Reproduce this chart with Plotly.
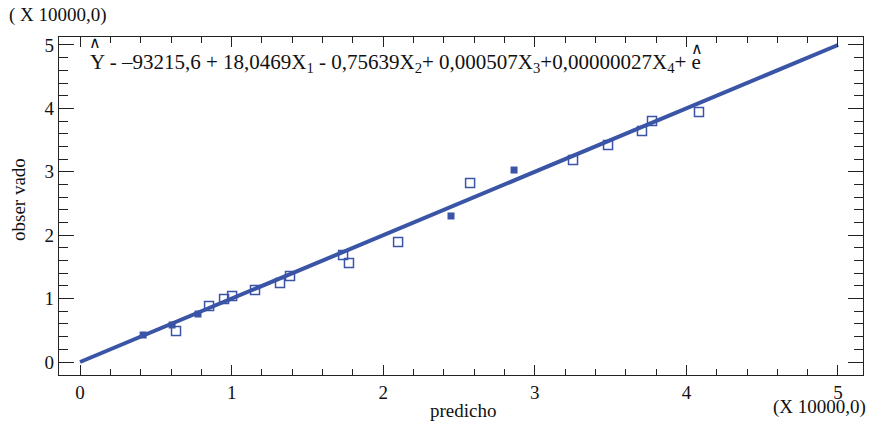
import plotly.graph_objects as go

# Data (units of 10000)
open_pred = [0.633, 0.851, 0.950, 1.003, 1.154, 1.319, 1.385, 1.735, 1.774, 2.098,
             2.573, 3.252, 3.483, 3.707, 3.773, 4.083]
open_obs = [0.489, 0.883, 0.994, 1.041, 1.136, 1.246, 1.356, 1.688, 1.562, 1.893,
            2.823, 3.186, 3.423, 3.644, 3.801, 3.943]
filled_pred = [0.416, 0.607, 0.778, 2.447, 2.863]
filled_obs = [0.426, 0.584, 0.757, 2.303, 3.028]
line_x = [0, 5]
line_y = [0, 5]
tick_vals = [0, 1, 2, 3, 4, 5]

BLUE = "#3a54a6"
FONT = "Liberation Serif, Times New Roman, DejaVu Serif, serif"
INK = "#111111"

fig = go.Figure()
fig.add_trace(go.Scatter(x=line_x, y=line_y, mode="lines",
                         line=dict(color=BLUE, width=4), hoverinfo="skip"))
fig.add_trace(go.Scatter(x=open_pred, y=open_obs, mode="markers",
                         marker=dict(symbol="square-open", size=9, color=BLUE,
                                     line=dict(width=1.5, color=BLUE))))
fig.add_trace(go.Scatter(x=filled_pred, y=filled_obs, mode="markers",
                         marker=dict(symbol="square", size=7, color=BLUE)))

fig.update_xaxes(range=[-0.139, 5.165], tickvals=tick_vals,
                 showline=True, linecolor="#222222", linewidth=1.3, mirror="ticks",
                 ticks="inside", ticklen=10, tickwidth=1.2, tickcolor="#222222",
                 showgrid=False, zeroline=False,
                 tickfont=dict(family=FONT, size=19, color=INK),
                 minor=dict(ticks="inside", ticklen=6, tickcolor="#222222", dtick=0.2, showgrid=False))
fig.update_yaxes(range=[-0.205, 5.126], tickvals=tick_vals,
                 showline=True, linecolor="#222222", linewidth=1.3, mirror="ticks",
                 ticks="inside", ticklen=15, tickwidth=1.2, tickcolor="#222222",
                 showgrid=False, zeroline=False,
                 tickfont=dict(family=FONT, size=19, color=INK),
                 minor=dict(ticks="inside", ticklen=9, tickcolor="#222222", dtick=0.2, showgrid=False))

ann = [
    dict(text="Y - \u201393215,6 + 18,0469X<sub>1</sub> - 0,75639X<sub>2</sub>+ 0,000507X<sub>3</sub>+0,00000027X<sub>4</sub>+ e",
         x=(88 - 59) / 804, y=(375 - 63) / 338, xanchor="left", yanchor="middle", size=21),
    dict(text="\u2227", x=(95 - 59) / 804, y=(375 - 43) / 338, xanchor="center", yanchor="middle", size=16),
    dict(text="\u2227", x=(697 - 59) / 804, y=(375 - 49) / 338, xanchor="center", yanchor="middle", size=16),
    dict(text="( X 10000,0)", x=(7 - 59) / 804, y=(375 - 15) / 338, xanchor="left", yanchor="middle", size=19),
    dict(text="(X 10000,0)", x=(868 - 59) / 804, y=(375 - 407) / 338, xanchor="right", yanchor="middle", size=19),
    dict(text="obser vado", x=(18 - 59) / 804, y=(375 - 200) / 338, textangle=-90,
         xanchor="center", yanchor="middle", size=19),
    dict(text="predicho", x=(463 - 59) / 804, y=(375 - 410) / 338, xanchor="center", yanchor="middle", size=19),
]
for a in ann:
    size = a.pop("size")
    fig.add_annotation(xref="paper", yref="paper", showarrow=False,
                       font=dict(family=FONT, size=size, color=INK), **a)

fig.update_layout(
    width=873, height=421, showlegend=False,
    font=dict(family=FONT, color=INK),
    margin=dict(l=59, r=10, t=37, b=46),
    plot_bgcolor="white", paper_bgcolor="white",
)
fig.write_html("out.html", config={"displayModeBar": False},
               post_script="document.body.style.margin='0';")
